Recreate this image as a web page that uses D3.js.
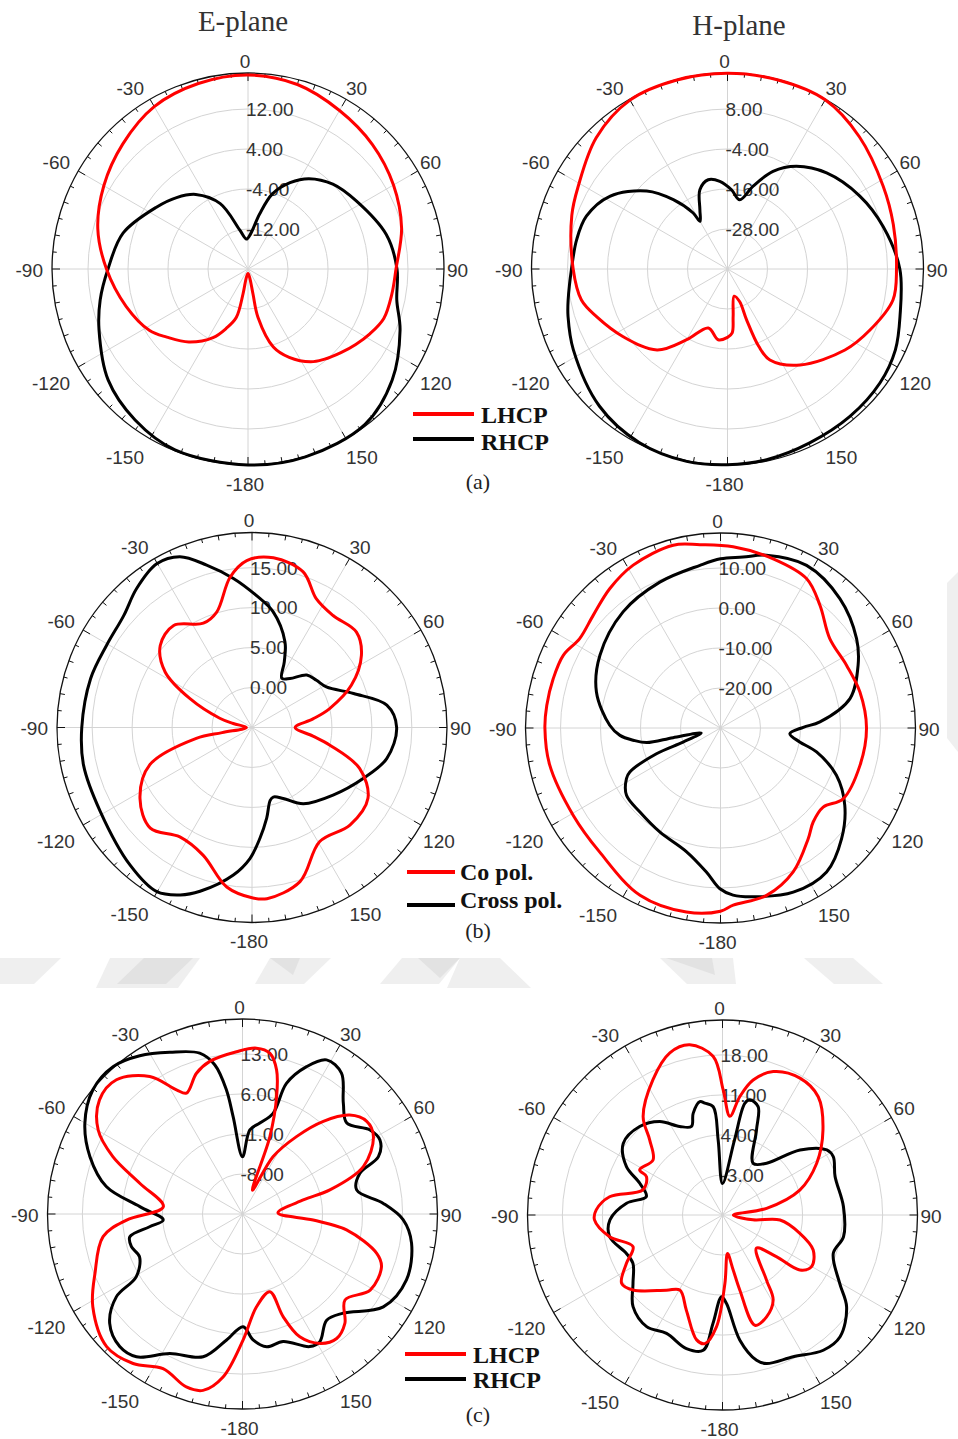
<!DOCTYPE html>
<html>
<head>
<meta charset="utf-8">
<script src="https://cdn.jsdelivr.net/npm/d3@7"></script>
<style>
  html, body { margin: 0; padding: 0; background: #fff; }
  svg { display: block; }
</style>
</head>
<body>
<script>
// ---------- radiation pattern data: [angle in degrees, gain in dB] ----------

// (a) E-plane
const aE_LHCP = [[-180,-19.1],[-169,-18.3],[-168.7,-14.9],[-166.4,-10],[-160,-7.4],[-153,-4.6],[-141,-1.2],[-130,1.2],[-122,3.2],[-107,5.5],[-90,8.3],[-75,11.1],[-60,13.3],[-45,15.4],[-30,17.5],[-15,18.4],[0,18.8],[15,18.2],[30,16.6],[45,15.2],[60,13.6],[75,11.8],[90,9.6],[100,9.2],[110,8.9],[118,7.6],[125,6.3],[132,5],[140,3.6],[146,2.4],[155,-0.5],[162,-3.6],[168.3,-10.1],[168.7,-14.9],[169,-18.3]];
const aE_RHCP = [[-180,19.2],[-158,19],[-143.2,17.7],[-128.4,15.7],[-112.3,12.2],[-101.8,10.2],[-90,8],[-74,6],[-56,2.1],[-45,0.2],[-35,-1.8],[-23,-5.8],[-12,-12],[-3,-14],[4,-13],[12,-8.7],[18,-4.2],[26,-0.8],[34,1.8],[45,4],[58,5.6],[76,8.5],[90,9.8],[101.8,10.4],[112,12.8],[127.6,16.4],[143,18.9],[163,19.3]];

// (a) H-plane
const aH_LHCP = [[-180,-19.5],[-172.5,-18.6],[-162,-21.4],[-150,-15.5],[-139,-7.8],[-123,-2.7],[-110,1.8],[-102,4.8],[-90,6.3],[-71,9.4],[-61,11.2],[-45,15.7],[-30,18.5],[-15,18.7],[0,18.7],[15,18.7],[30,18.6],[45,16],[62,12.9],[75,11.5],[90,10.7],[100.6,10.5],[113.2,6.5],[124.6,2.8],[142.9,-3.9],[155,-9.9],[158,-15],[159.4,-23.8],[159.6,-29.6],[166.3,-31.6],[173.2,-25.7],[175.8,-20.8]];
const aH_RHCP = [[-180,18.7],[-168,19],[-153,18.4],[-137,16.3],[-117.6,12.2],[-106.5,9.9],[-101,8.7],[-90,6.8],[-79,6.1],[-69.5,5.2],[-58.3,1.5],[-46,-6.3],[-38,-13.6],[-31.5,-20.3],[-30,-23.5],[-25,-20.4],[-19.2,-14.8],[-12.2,-12.6],[-5,-13.6],[2.9,-16.2],[10,-18.9],[17.2,-14],[25,-7.7],[33.9,-2.9],[45.9,1.4],[61,5.3],[74.7,8.4],[90,11.7],[105,13.6],[115.7,15.9],[126.8,17.1],[140.3,17.5],[154.7,17.7],[168.4,18.4]];

// (b) E-plane
const bE_CO = [[-180,16.3],[-171,15.2],[-159,12.1],[-146.6,11.4],[-134.7,12.9],[-122.4,11.6],[-110,8.6],[-101,2.1],[-99.7,-1.2],[-90,-4.3],[-78,-2.6],[-74,-0.8],[-65,3.6],[-57.4,7.9],[-48.2,10.4],[-37.5,11.1],[-25,9.4],[-17,10.1],[-8.3,14],[-1.8,15.9],[7.2,16.4],[18.2,15.5],[26.6,13],[35.9,12.3],[47.6,12.7],[56.6,11.4],[67,8.5],[76.3,5],[82,2.7],[90,0.4],[98,2.7],[102.8,5],[110.8,9.4],[121.4,12],[134.9,12.3],[149.3,11.6],[162.7,15.2],[175,16.5]];
const bE_CROSS = [[-179.1,11.4],[-172.8,13.6],[-162.4,16.5],[-156.8,17.8],[-149.9,18.75],[-138.4,18],[-119,16.7],[-102.6,16.6],[-90,16.3],[-73.2,16.1],[-60.5,15.9],[-48.9,16.3],[-39.7,17.6],[-30.2,18.7],[-22.9,18.2],[-15.6,16.1],[-7.1,13.8],[2,11.5],[10.4,9.7],[21,6.5],[26.2,4.15],[31.2,2.2],[37.8,2.75],[46.2,4.5],[53.8,5],[61.4,5.6],[71.5,8.4],[80.6,12.1],[90,13.1],[103,12.3],[114.6,10.3],[129.8,8.2],[146,6.5],[156.2,4.7],[163,4.1],[166,4.4],[170.8,6.5],[175.9,8.9]];

// (b) H-plane
const bH_CO = [[-180,15.8],[-169.5,16.8],[-154.3,16.4],[-135.8,13.3],[-120.7,12.8],[-102,13.7],[-90,13.9],[-82.6,13.8],[-73.6,13.6],[-65.2,13.3],[-57.6,11.7],[-48.5,12.5],[-38.5,14.5],[-28.2,16.2],[-14.5,17.2],[-6.4,16.1],[4,15.4],[17.3,14.3],[30,13.1],[39,9.5],[50.7,5.3],[63.6,5.2],[75.5,6],[90,6.5],[105,6.1],[120,5.4],[127.6,2.4],[135.4,3],[141.6,5.3],[153.2,10.3],[164.6,13.4],[175.9,14.4]];
const bH_CROSS = [[-179.8,10.2],[-174.4,6.2],[-164.7,2.1],[-149.7,0.1],[-136.2,-0.9],[-125.6,-1.1],[-118.3,-3.3],[-115.9,-4.8],[-111.9,-12.75],[-110.6,-20],[-104.7,-25],[-101.5,-17.9],[-101.2,-11.2],[-98,-8],[-94.2,-4.8],[-88.6,-2.3],[-73.8,2.3],[-58.9,5.2],[-40,7.9],[-22.6,9.5],[-7.2,11],[0,12.3],[7.5,13.1],[14.9,14.7],[27.9,16],[42.7,14],[56.7,10.7],[65.5,7.8],[77.2,3.2],[86.5,-5.1],[89.5,-9.3],[94.7,-12.6],[100,-9.9],[104,-5.25],[112.2,1.3],[121.9,6.6],[132.4,11],[143.6,14.7],[156.1,14.9],[169,13],[175.7,11.9]];

// (c) E-plane
const cE_LHCP = [[-173.2,13.7],[-167.4,16.6],[-162,16.8],[-152.8,15.4],[-143.8,17.4],[-134.3,18.2],[-121.8,15.8],[-111.9,12.8],[-99.2,9.7],[-93,5.3],[-84.7,-1.1],[-73.4,3.7],[-66.1,9.8],[-59.8,14.2],[-51.4,17],[-43.2,17.2],[-34,14],[-28,9.6],[-24.9,8.3],[-18.1,10.9],[-12.1,12.3],[-2.1,13.4],[4.8,14.1],[9.7,13.5],[13.3,10.9],[16.2,6.4],[19.5,-0.65],[22.6,-10.5],[28.1,-3.6],[34.9,1.5],[41.1,6.5],[47.3,10.5],[53.3,12.1],[59.4,11.6],[68.6,7.7],[74.6,0.85],[77,-4.1],[88,-8.8],[94.9,-2.6],[98.7,3.4],[106.4,9.5],[110.8,11],[120.8,11],[130,8.4],[136.9,11.2],[142.9,12.3],[149,11.4],[155,8.7],[158.4,4.3],[160.6,-0.6],[171.4,1.4],[179.7,7]];
const cE_RHCP = [[-172.8,7.2],[-164.6,10.9],[-152.5,12.5],[-143.4,16.1],[-137.2,16.6],[-129.5,15.1],[-123.3,11.4],[-120.6,6.6],[-112.6,4.5],[-106.4,5.25],[-101.4,5.1],[-97.8,1.4],[-94.3,-1.1],[-85.9,3],[-78.6,9.3],[-69.4,13.5],[-60.1,16.8],[-50.3,19],[-41.3,19.3],[-33,18],[-24.2,16],[-14.9,14.1],[-10.5,11.5],[-7.4,6.9],[-5.5,2.1],[0,-5],[5,-0.25],[10.8,1.2],[16.9,3.4],[18.6,9.1],[23.5,13.1],[28.6,15.7],[35.1,15.1],[42.3,11.2],[48.9,9.2],[56.6,11.7],[61.7,12.3],[67.1,10.8],[70.9,6.7],[78.1,5.4],[85.7,9.7],[92,13.1],[99.8,15],[111.9,15.9],[123.4,14.5],[134.6,9.7],[141.6,8.7],[148.8,11.1],[153.1,11],[162.3,8.4],[169.7,8.6],[175.2,7.1],[179.7,4.7]];

// (c) H-plane
const cH_LHCP = [[-176.9,9.6],[-172.2,12.7],[-168.3,12.3],[-159.2,7.8],[-150.4,5.1],[-143.3,6.4],[-130,10.4],[-124.1,11.3],[-116.7,8.8],[-109.5,6.6],[-100.9,10.1],[-92.2,12.4],[-87.7,12.1],[-80.8,10],[-72.5,4.6],[-63.2,4.9],[-61.4,6.5],[-51.6,5.5],[-44.1,8.3],[-38.9,12.1],[-27.2,16.6],[-18,19.8],[-10.9,20.3],[-3.4,17.8],[0.3,11.9],[4.3,7.3],[8.3,10.9],[12.8,14.2],[19.5,16.6],[29.5,17.5],[39,16.6],[49.8,13],[61.2,8.8],[72.1,4.2],[81.4,-2.2],[90,-8.1],[99,-4.6],[95,0.1],[103.3,3.9],[111.1,7],[120.1,8],[125.4,6.6],[127.7,1.9],[134.4,-1.7],[145.9,3.7],[149.2,7.3],[156.6,9.4],[163.6,10.1],[167,3.5],[169,-0.2],[172.6,-3.2],[178,2]];
const cH_RHCP = [[-179.3,4.3],[-175,9],[-171.9,13.9],[-164.9,14.2],[-154.7,12.9],[-145.8,13.6],[-135.7,12.4],[-127.4,9.7],[-118.4,7.8],[-111.8,8.1],[-100.9,10.1],[-92.5,9.7],[-83,6.9],[-76.4,3.7],[-69,5.5],[-63.3,8.8],[-54.2,11.4],[-43.1,11.2],[-33.9,9.7],[-25.8,7.2],[-19.3,6.4],[-16.1,8.5],[-11.3,10.2],[-9,9.8],[-4.9,9],[-3.3,3.1],[0,-4.5],[9.1,3.3],[11.3,9.9],[13.4,10.7],[18.2,9.95],[21.8,6],[30.7,0.5],[40.4,1.9],[50,7.7],[58,11.5],[62.2,11.9],[71.2,10.8],[86,11.2],[100.2,11.5],[109.1,10.5],[120.2,13.7],[126.5,17],[136,19.6],[143.3,19.5],[153.5,17.7],[163.5,17.1],[166.8,16.1],[172.1,12.1],[177.4,5.5]];

// ---------- radial axis rings (dB) ----------
const ringsAE = [-12, -4, 4, 12];
const ringsAH = [-28, -16, -4, 8];
const ringsBE = [0, 5, 10, 15];
const ringsBH = [-20, -10, 0, 10];
const ringsCE = [-8, -1, 6, 13];
const ringsCH = [-3, 4, 11, 18];

// ---------- angular axis labels ----------
const angleTicks  = [0, 30, 60, 90, 120, 150, 180, 210, 240, 270, 300, 330];
const angleLabels = ["0", "30", "60", "90", "120", "150", "-180", "-150", "-120", "-90", "-60", "-30"];

const titles = ["E-plane", "H-plane"];
const legendAC = ["LHCP", "RHCP"];
const legendB  = ["Co pol.", "Cross pol."];
const captions = ["(a)", "(b)", "(c)"];

const RED = "#ff0000", BLACK = "#000000";
const SANS = "'Liberation Sans', Arial, sans-serif";
const SERIF = "'Liberation Serif', 'Times New Roman', serif";

const panels = [
  { cx: 248,   cy: 269,    R: 196, min: -20, max: 19.2, rings: ringsAE, red: aE_LHCP, black: aE_RHCP },
  { cx: 727.5, cy: 269,    R: 196, min: -40, max: 18.8, rings: ringsAH, red: aH_LHCP, black: aH_RHCP },
  { cx: 252,   cy: 727.5,  R: 195, min: -5,  max: 19.4, rings: ringsBE, red: bE_CO,   black: bE_CROSS },
  { cx: 720.5, cy: 728,    R: 195, min: -30, max: 18.75, rings: ringsBH, red: bH_CO,  black: bH_CROSS },
  { cx: 242.5, cy: 1214,   R: 195, min: -15, max: 19.1, rings: ringsCE, red: cE_LHCP, black: cE_RHCP },
  { cx: 722.5, cy: 1215,   R: 195, min: -10, max: 24.1, rings: ringsCH, red: cH_LHCP, black: cH_RHCP }
];

const svg = d3.select("body").append("svg")
  .attr("width", 958).attr("height", 1439)
  .attr("viewBox", "0 0 958 1439");

svg.append("rect").attr("width", 958).attr("height", 1439).attr("fill", "#fff");

// faint page watermark showing between the figure rows
const wmLight = [
  [[0,958],[61,958],[34,984],[0,984]],
  [[110,958],[200,958],[178,988],[96,988]],
  [[270,958],[331,958],[304,984],[255,984]],
  [[402,958],[460,958],[439,984],[380,984]],
  [[460,958],[500,958],[531,988],[447,988]],
  [[660,958],[733,958],[736,984],[687,984]],
  [[804,958],[853,958],[883,984],[834,984]],
  [[947,583],[958,572],[958,752],[947,738]]
];
const wmDark = [
  [[144,958],[193,958],[166,984],[117,984]],
  [[270,958],[300,958],[293,975]],
  [[418,958],[460,958],[440,978]],
  [[666,958],[712,958],[715,975]]
];
const wm = svg.append("g");
wm.selectAll("path.l").data(wmLight).join("path").attr("class", "l")
  .attr("d", d => "M" + d.join("L") + "Z").attr("fill", "#efefef");
wm.selectAll("path.d").data(wmDark).join("path").attr("class", "d")
  .attr("d", d => "M" + d.join("L") + "Z").attr("fill", "#e2e2e2");

const rad = d => d * Math.PI / 180;
const sgn = v => (Math.abs(v) < 0.01 ? 0 : Math.sign(v));

panels.forEach(p => {
  const g = svg.append("g").attr("transform", `translate(${p.cx},${p.cy})`);
  const r = d3.scaleLinear().domain([p.min, p.max]).range([0, p.R]);

  // plot area
  g.append("circle").attr("r", p.R).attr("fill", "#fff");

  // grid rings
  g.selectAll("circle.ring").data(p.rings).join("circle")
    .attr("class", "ring").attr("r", d => r(d))
    .attr("fill", "none").attr("stroke", "#d4d4d4").attr("stroke-width", 1);

  // spokes every 30 degrees
  g.selectAll("line.spoke").data(angleTicks).join("line")
    .attr("class", "spoke")
    .attr("x1", 0).attr("y1", 0)
    .attr("x2", d => p.R * Math.sin(rad(d)))
    .attr("y2", d => -p.R * Math.cos(rad(d)))
    .attr("stroke", "#d4d4d4").attr("stroke-width", 1);

  // outer boundary
  g.append("circle").attr("r", p.R).attr("fill", "none")
    .attr("stroke", "#111").attr("stroke-width", 1.3);

  // angular ticks
  const tickLen = d => (d % 30 === 0 ? 8 : (d % 10 === 0 ? 5 : 4));
  g.selectAll("line.tick").data(d3.range(0, 360, 5)).join("line")
    .attr("class", "tick")
    .attr("x1", d => p.R * Math.sin(rad(d)))
    .attr("y1", d => -p.R * Math.cos(rad(d)))
    .attr("x2", d => (p.R - tickLen(d)) * Math.sin(rad(d)))
    .attr("y2", d => -(p.R - tickLen(d)) * Math.cos(rad(d)))
    .attr("stroke", "#111").attr("stroke-width", 1);

  // radial labels
  g.selectAll("text.rlab").data(p.rings).join("text")
    .attr("class", "rlab")
    .attr("x", -2).attr("y", d => -r(d))
    .attr("dy", "0.36em")
    .attr("font-family", SANS).attr("font-size", 19).attr("fill", "#333")
    .text(d => d.toFixed(2));

  // angular labels: text box corner kept just outside the rim
  const lr = p.R + 6;
  g.selectAll("text.alab").data(angleTicks).join("text")
    .attr("class", "alab")
    .attr("font-family", SANS).attr("font-size", 19).attr("fill", "#333")
    .attr("text-anchor", "middle").attr("dy", "0.36em")
    .text((d, i) => angleLabels[i])
    .each(function (d) {
      const w = this.getComputedTextLength();
      const s = Math.sin(rad(d)), c = Math.cos(rad(d));
      d3.select(this)
        .attr("x", lr * s + sgn(s) * w / 2 - 3)
        .attr("y", -lr * c - sgn(c) * 7 + (c < -0.01 ? 5 : 0) + 1);
    });

  // pattern curves
  const line = d3.lineRadial()
    .angle(d => rad(d[0]))
    .radius(d => r(d[1]))
    .curve(d3.curveCatmullRomClosed.alpha(0.5));

  g.append("path").datum(p.black).attr("d", line)
    .attr("fill", "none").attr("stroke", BLACK).attr("stroke-width", 3)
    .attr("stroke-linejoin", "round");
  g.append("path").datum(p.red).attr("d", line)
    .attr("fill", "none").attr("stroke", RED).attr("stroke-width", 3)
    .attr("stroke-linejoin", "round");
});

// column titles
svg.append("text").attr("x", 243).attr("y", 31).attr("text-anchor", "middle")
  .attr("font-family", SERIF).attr("font-size", 29).attr("fill", "#333").text(titles[0]);
svg.append("text").attr("x", 739).attr("y", 35).attr("text-anchor", "middle")
  .attr("font-family", SERIF).attr("font-size", 29).attr("fill", "#333").text(titles[1]);

// legends and captions
const legends = [
  { x1: 413, x2: 474, y1: 414, y2: 439, tx: 481, t1: 423, t2: 450, names: legendAC, cap: captions[0], capY: 489 },
  { x1: 407, x2: 455, y1: 872, y2: 905, tx: 460, t1: 880, t2: 908, names: legendB,  cap: captions[1], capY: 938 },
  { x1: 405, x2: 466, y1: 1354, y2: 1379, tx: 473, t1: 1363, t2: 1388, names: legendAC, cap: captions[2], capY: 1422 }
];
legends.forEach(L => {
  svg.append("line").attr("x1", L.x1).attr("x2", L.x2).attr("y1", L.y1).attr("y2", L.y1)
    .attr("stroke", RED).attr("stroke-width", 4);
  svg.append("line").attr("x1", L.x1).attr("x2", L.x2).attr("y1", L.y2).attr("y2", L.y2)
    .attr("stroke", BLACK).attr("stroke-width", 4);
  svg.append("text").attr("x", L.tx).attr("y", L.t1)
    .attr("font-family", SERIF).attr("font-weight", "bold").attr("font-size", 24).attr("fill", "#111").text(L.names[0]);
  svg.append("text").attr("x", L.tx).attr("y", L.t2)
    .attr("font-family", SERIF).attr("font-weight", "bold").attr("font-size", 24).attr("fill", "#111").text(L.names[1]);
  svg.append("text").attr("x", 478).attr("y", L.capY).attr("text-anchor", "middle")
    .attr("font-family", SERIF).attr("font-size", 22).attr("fill", "#222").text(L.cap);
});
</script>
</body>
</html>
